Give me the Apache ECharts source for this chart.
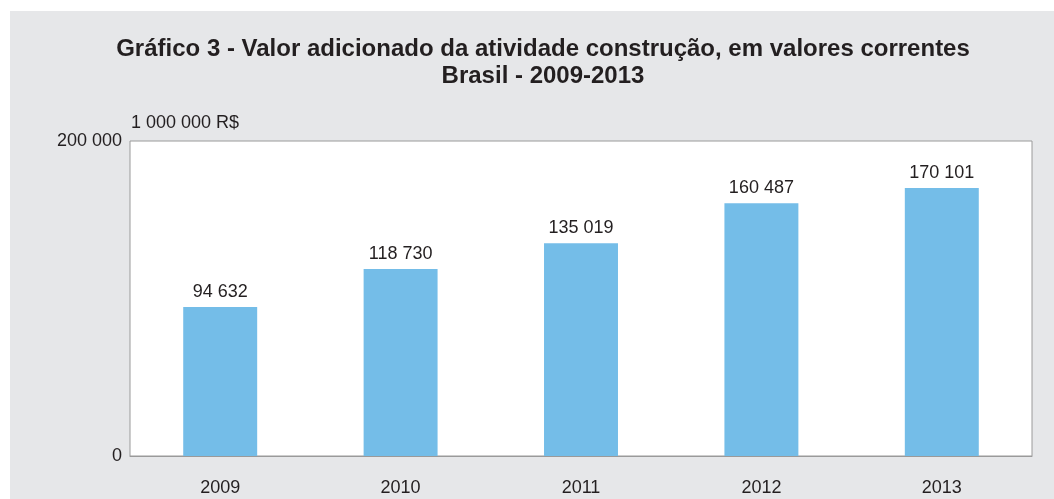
<!DOCTYPE html>
<html>
<head>
<meta charset="utf-8">
<script src="https://cdn.jsdelivr.net/npm/echarts@6/dist/echarts.min.js"></script>
<style>
    html, body { margin: 0; padding: 0; background: #fff; }
    #chart { position: absolute; left: 10px; top: 11px; width: 1044px; height: 488px; }
</style>
</head>
<body>
<div id="chart"></div>
<script>
var anos = ['2009', '2010', '2011', '2012', '2013'];
var valores = [94632, 118730, 135019, 160487, 170101];
var eixoMin = 0;
var eixoMax = 200000;

function fmt(v) {
    return String(v).replace(/\B(?=(\d{3})+(?!\d))/g, ' ');
}

var chart = echarts.init(document.getElementById('chart'));
var option = {
    backgroundColor: '#e6e7e9',
    animation: false,
    textStyle: { fontFamily: 'Liberation Sans' },
    title: {
        text: 'Gráfico 3 - Valor adicionado da atividade construção, em valores correntes\nBrasil - 2009-2013',
        left: 528,
        top: 20,
        textAlign: 'center',
        textStyle: {
            fontFamily: 'Liberation Sans',
            fontSize: 24,
            fontWeight: 'bold',
            color: '#231f20',
            lineHeight: 27
        }
    },
    grid: {
        left: 120,
        right: 22,
        top: 130,
        bottom: 43,
        show: true,
        backgroundColor: '#fff',
        borderColor: '#9a9a9a',
        borderWidth: 1
    },
    xAxis: {
        type: 'category',
        data: anos,
        axisLine: { lineStyle: { color: '#9a9a9a' } },
        axisTick: { show: false },
        axisLabel: { color: '#231f20', fontSize: 18, margin: 23 }
    },
    yAxis: {
        type: 'value',
        min: eixoMin,
        max: eixoMax,
        interval: 200000,
        name: '1 000 000 R$',
        nameLocation: 'end',
        nameGap: 18,
        nameTextStyle: { color: '#231f20', fontSize: 18, align: 'left', verticalAlign: 'middle', padding: [0, 0, 0, 1] },
        splitLine: { show: false },
        axisLine: { show: false },
        axisTick: { show: false },
        axisLabel: { color: '#231f20', fontSize: 18, margin: 8, formatter: fmt }
    },
    series: [{
        type: 'bar',
        data: valores,
        barWidth: '41%',
        itemStyle: { color: '#74bde8' },
        label: {
            show: true,
            position: 'top',
            distance: 6,
            color: '#231f20',
            fontSize: 18,
            formatter: function(p) { return fmt(p.value); }
        }
    }]
};
chart.setOption(option);
</script>
</body>
</html>
